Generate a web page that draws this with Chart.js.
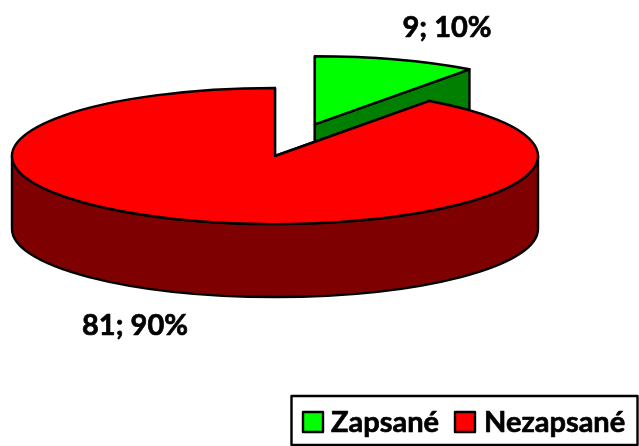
<!DOCTYPE html>
<html>
<head>
<meta charset="utf-8">
<style>html,body{margin:0;padding:0;background:#fff}canvas{display:block}</style>
<script src="https://cdn.jsdelivr.net/npm/chart.js@4"></script>
</head>
<body>
<canvas id="c" width="639" height="446"></canvas>
<script>
const categories = ["Zapsané", "Nezapsané"];
const values = [9, 81];
const dataLabels = ["9; 10%", "81; 90%"];
const topColors = ["#00FF00", "#FF0000"];
const sideColors = ["#007F00", "#7F0000"];
const explode = [129, 0];

const squash = 68 / 263, depth = 73, lineW = 2.4;
const labelPos = [[447, 37], [135, 335]];
const font = 'bold 29px Lato';

function geom(chart, arc) {
  const a = chart.chartArea;
  const by = (a.top + a.bottom) / 2;
  return {
    cx: arc.x,
    cy: by + (arc.y - by) * squash,
    r: arc.outerRadius, a: arc.startAngle, b: arc.endAngle
  };
}
function pt(g, t) {
  return [g.cx + Math.cos(t) * g.r, g.cy + Math.sin(t) * g.r * squash];
}
function wallFaces(ctx, g, color) {
  ctx.fillStyle = color; ctx.strokeStyle = '#000'; ctx.lineWidth = lineW; ctx.lineJoin = 'round';
  [g.a, g.b].forEach(t => {
    const e = pt(g, t);
    ctx.beginPath();
    ctx.moveTo(g.cx, g.cy); ctx.lineTo(e[0], e[1]);
    ctx.lineTo(e[0], e[1] + depth); ctx.lineTo(g.cx, g.cy + depth);
    ctx.closePath(); ctx.fill(); ctx.stroke();
  });
  [[0, Math.PI], [2 * Math.PI, 3 * Math.PI]].forEach(([lo, hi]) => {
    const s = Math.max(g.a, lo), t = Math.min(g.b, hi);
    if (t <= s) return;
    ctx.beginPath();
    ctx.ellipse(g.cx, g.cy, g.r, g.r * squash, 0, s, t);
    ctx.ellipse(g.cx, g.cy + depth, g.r, g.r * squash, 0, t, s, true);
    ctx.closePath(); ctx.fill(); ctx.stroke();
  });
}
const pie3d = {
  id: 'pie3d',
  afterDatasetsUpdate(chart) {
    chart.getDatasetMeta(0).data.forEach((arc, i) => {
      const mid = (arc.startAngle + arc.endAngle) / 2;
      arc.x += Math.cos(mid) * explode[i];
      arc.y += Math.sin(mid) * explode[i];
    });
  },
  beforeDatasetsDraw(chart) {
    const ctx = chart.ctx, a = chart.chartArea, arcs = chart.getDatasetMeta(0).data;
    arcs.forEach((arc, i) => wallFaces(ctx, geom(chart, arc), sideColors[i]));
    const by = (a.top + a.bottom) / 2;
    ctx.save();
    ctx.translate(0, by); ctx.scale(1, squash); ctx.translate(0, -by);
  },
  afterDatasetsDraw(chart) {
    const ctx = chart.ctx, arcs = chart.getDatasetMeta(0).data;
    ctx.restore();
    ctx.strokeStyle = '#000'; ctx.lineWidth = lineW; ctx.lineJoin = 'round';
    arcs.forEach(arc => {
      const g = geom(chart, arc);
      ctx.beginPath();
      ctx.moveTo(g.cx, g.cy);
      ctx.ellipse(g.cx, g.cy, g.r, g.r * squash, 0, g.a, g.b);
      ctx.closePath(); ctx.stroke();
    });
  },
  afterDraw(chart) {
    const ctx = chart.ctx;
    const heavyText = (t, x, y) => {
      ctx.lineWidth = 0.7;
      ctx.strokeStyle = '#000';
      ctx.strokeText(t, x, y);
      ctx.fillStyle = '#000';
      ctx.fillText(t, x, y);
    };
    ctx.save();
    ctx.font = font; ctx.textAlign = 'center'; ctx.textBaseline = 'alphabetic'; ctx.lineJoin = 'round';
    dataLabels.forEach((t, i) => heavyText(t, labelPos[i][0], labelPos[i][1]));
    ctx.strokeStyle = '#000'; ctx.lineWidth = 2.4;
    ctx.strokeRect(291.5, 396, 346, 49);
    const swatchX = [303, 455], textX = [331, 484];
    ctx.textAlign = 'left';
    categories.forEach((t, i) => {
      ctx.fillStyle = topColors[i];
      ctx.strokeStyle = '#000'; ctx.lineWidth = 2.4;
      ctx.fillRect(swatchX[i], 412, 20, 20);
      ctx.strokeRect(swatchX[i], 412, 20, 20);
      heavyText(t, textX[i], 432);
    });
    ctx.restore();
  }
};
new Chart(document.getElementById('c'), {
  type: 'pie',
  data: {
    labels: categories,
    datasets: [{
      data: values,
      backgroundColor: topColors,
      borderWidth: 0,
      hoverOffset: 0,
      clip: false
    }]
  },
  options: {
    responsive: false,
    animation: false,
    radius: 263,
    layout: { padding: { left: 0, right: 89, top: 0, bottom: 134 } },
    plugins: { legend: { display: false }, tooltip: { enabled: false } }
  },
  plugins: [pie3d]
});
</script>
</body>
</html>
